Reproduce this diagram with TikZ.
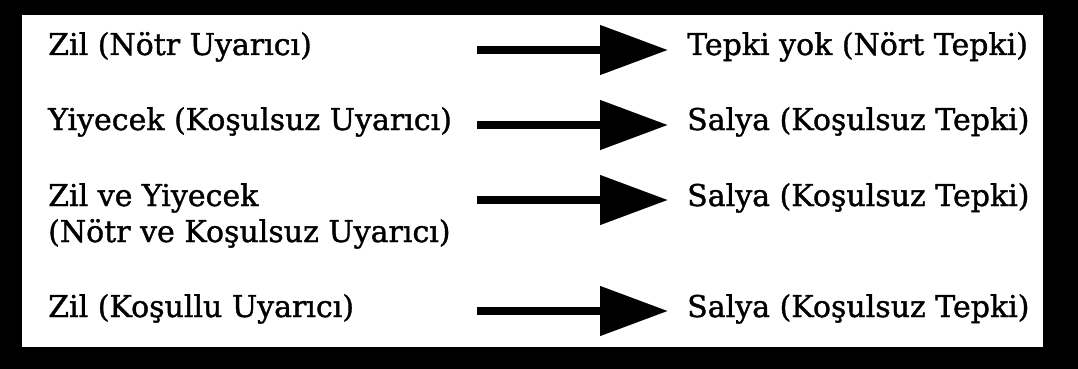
\documentclass[tikz,border=0pt]{standalone}
\usepackage{fontspec}
\setmainfont[FakeBold=1.2]{DejaVu Serif}
\usetikzlibrary{arrows.meta}
\tikzset{
  txt/.style={anchor=base west, inner sep=0pt, font=\fontsize{30}{36}\selectfont, align=left},
  arr/.style={line width=8pt, -{Triangle[length=68pt,width=48pt]}}
}
\begin{document}
\begin{tikzpicture}[x=1pt,y=-1pt]
\useasboundingbox (0,0) rectangle (1078,369);
\fill[black] (0,0) rectangle (1078,369);
\fill[white] (22,15) rectangle (1043,347);
% arrow coordinates
\coordinate (s1) at (477,50);  \coordinate (t1) at (668,50);
\coordinate (s2) at (477,125); \coordinate (t2) at (668,125);
\coordinate (s3) at (477,200); \coordinate (t3) at (668,200);
\coordinate (s4) at (477,311); \coordinate (t4) at (668,311);
% left texts
\node[txt] (l1) at (48,55) {Zil (Nötr Uyarıcı)};
\node[txt] (l2) at (48,130) {Yiyecek (Koşulsuz Uyarıcı)};
\node[txt] (l3) at (48,242) {Zil ve Yiyecek\\(Nötr ve Koşulsuz Uyarıcı)};
\node[txt] (l4) at (48,317) {Zil (Koşullu Uyarıcı)};
% right texts
\node[txt] (r1) at (687,55) {Tepki yok (Nört Tepki)};
\node[txt] (r2) at (687,130) {Salya (Koşulsuz Tepki)};
\node[txt] (r3) at (687,206) {Salya (Koşulsuz Tepki)};
\node[txt] (r4) at (687,317) {Salya (Koşulsuz Tepki)};
% arrows
\draw[arr] (s1) -- (t1);
\draw[arr] (s2) -- (t2);
\draw[arr] (s3) -- (t3);
\draw[arr] (s4) -- (t4);
\end{tikzpicture}
\end{document}
